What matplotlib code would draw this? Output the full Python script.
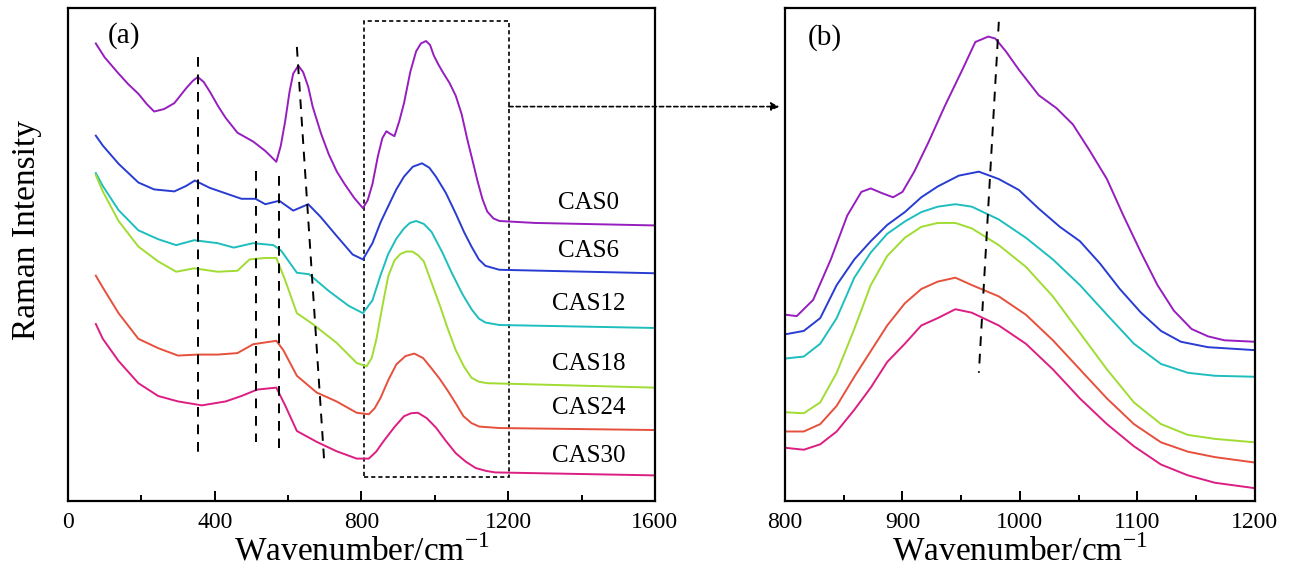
import matplotlib.pyplot as plt
from matplotlib.patches import Rectangle, ConnectionPatch
from matplotlib.ticker import MultipleLocator

plt.rcParams['font.family'] = ['Liberation Serif', 'DejaVu Serif']

names = ["CAS0", "CAS6", "CAS12", "CAS18", "CAS24", "CAS30"]
colors = ["#961EBE", "#283CD2", "#1EBEBE", "#A0DC32", "#E6503C", "#DC1E82"]

# panel (a): full spectra, wavenumber / offset intensity (a.u.)
wn_cas0 = [76, 100, 138, 165, 192, 215, 235, 262, 290, 322, 340, 354, 370, 387, 410, 430, 462, 505,
           538, 568, 580, 592, 604, 614, 628, 641, 655, 667, 690, 711, 733, 754, 780, 804, 817, 830,
           845, 857, 868, 878, 890, 903, 916, 933, 949, 962, 976, 987, 997, 1010, 1024, 1040, 1057,
           1073, 1089, 1103, 1116, 1130, 1143, 1160, 1176, 1273, 1597]
int_cas0 = [0.928, 0.900, 0.867, 0.845, 0.826, 0.805, 0.790, 0.795, 0.807, 0.837, 0.852, 0.860,
            0.850, 0.830, 0.800, 0.777, 0.747, 0.729, 0.710, 0.688, 0.720, 0.770, 0.830, 0.867,
            0.883, 0.870, 0.840, 0.800, 0.745, 0.703, 0.668, 0.643, 0.615, 0.594, 0.610, 0.643,
            0.700, 0.736, 0.750, 0.745, 0.740, 0.770, 0.807, 0.870, 0.912, 0.928, 0.933, 0.925,
            0.904, 0.885, 0.867, 0.848, 0.822, 0.785, 0.732, 0.690, 0.650, 0.612, 0.587, 0.573,
            0.568, 0.564, 0.559]

wn_cas6 = [76, 95, 138, 192, 235, 290, 322, 346, 387, 430, 473, 511, 538, 576, 614, 655, 689, 732,
           776, 804, 830, 852, 873, 895, 916, 940, 965, 985, 1003, 1030, 1057, 1080, 1100, 1120,
           1138, 1176, 1597]
int_cas6 = [0.741, 0.721, 0.684, 0.646, 0.632, 0.628, 0.639, 0.650, 0.635, 0.624, 0.613, 0.613,
            0.602, 0.609, 0.589, 0.602, 0.576, 0.538, 0.500, 0.490, 0.523, 0.565, 0.598, 0.632,
            0.658, 0.678, 0.685, 0.676, 0.658, 0.625, 0.583, 0.545, 0.516, 0.490, 0.477, 0.469,
            0.462]

wn_cas12 = [76, 95, 138, 192, 246, 295, 344, 408, 452, 505, 560, 581, 624, 657, 711, 765, 804, 830,
            852, 873, 895, 916, 932, 949, 970, 991, 1020, 1046, 1075, 1100, 1120, 1138, 1176, 1597]
int_cas12 = [0.665, 0.639, 0.590, 0.549, 0.531, 0.519, 0.529, 0.523, 0.514, 0.523, 0.519, 0.508,
             0.463, 0.460, 0.426, 0.396, 0.381, 0.407, 0.458, 0.501, 0.532, 0.553, 0.564, 0.568,
             0.562, 0.546, 0.505, 0.463, 0.420, 0.389, 0.370, 0.362, 0.357, 0.351]

wn_cas18 = [76, 95, 138, 192, 246, 295, 344, 408, 462, 495, 538, 568, 592, 624, 667, 732, 787, 814,
            828, 841, 857, 873, 890, 906, 922, 939, 955, 970, 990, 1014, 1035, 1057, 1080, 1100,
            1120, 1143, 1597]
int_cas18 = [0.661, 0.628, 0.568, 0.516, 0.486, 0.465, 0.472, 0.465, 0.467, 0.490, 0.493, 0.493,
             0.448, 0.381, 0.359, 0.321, 0.280, 0.273, 0.290, 0.329, 0.395, 0.456, 0.488, 0.501,
             0.506, 0.506, 0.498, 0.486, 0.445, 0.396, 0.350, 0.306, 0.272, 0.250, 0.242, 0.239,
             0.230]

wn_cas24 = [76, 95, 138, 192, 246, 300, 354, 408, 462, 505, 568, 587, 624, 678, 732, 787, 820, 836,
            852, 873, 895, 920, 944, 968, 991, 1013, 1035, 1057, 1078, 1100, 1121, 1176, 1597]
int_cas24 = [0.457, 0.433, 0.381, 0.329, 0.310, 0.295, 0.297, 0.297, 0.300, 0.318, 0.325, 0.306,
             0.254, 0.220, 0.202, 0.179, 0.176, 0.188, 0.209, 0.245, 0.277, 0.294, 0.299, 0.290,
             0.269, 0.248, 0.224, 0.198, 0.172, 0.158, 0.151, 0.148, 0.144]

wn_cas30 = [76, 95, 138, 192, 246, 300, 365, 430, 473, 516, 568, 592, 624, 678, 732, 787, 820, 840,
            862, 890, 916, 935, 954, 978, 1003, 1030, 1057, 1084, 1111, 1140, 1165, 1597]
int_cas30 = [0.359, 0.329, 0.284, 0.239, 0.213, 0.202, 0.194, 0.202, 0.213, 0.226, 0.230, 0.194,
             0.142, 0.120, 0.101, 0.086, 0.086, 0.100, 0.123, 0.150, 0.172, 0.178, 0.179, 0.168,
             0.149, 0.122, 0.097, 0.080, 0.067, 0.061, 0.058, 0.052]

# panel (b): 800-1200 cm-1 region, re-offset
wn_b0 = [800, 810, 824, 839, 853, 865, 873, 882, 892, 900, 910, 922, 936, 951, 962, 973, 979, 988,
         999, 1016, 1031, 1045, 1059, 1074, 1088, 1103, 1117, 1131, 1146, 1160, 1174, 1200]
int_b0 = [0.378, 0.375, 0.408, 0.490, 0.579, 0.627, 0.634, 0.625, 0.616, 0.627, 0.668, 0.727,
          0.801, 0.875, 0.931, 0.942, 0.938, 0.912, 0.875, 0.823, 0.797, 0.764, 0.712, 0.653,
          0.579, 0.504, 0.438, 0.386, 0.349, 0.334, 0.326, 0.323]

wn_b6 = [800, 816, 830, 844, 859, 873, 887, 902, 916, 930, 948, 965, 982, 999, 1016, 1034, 1051,
         1068, 1085, 1103, 1120, 1137, 1160, 1200]
int_b6 = [0.338, 0.345, 0.371, 0.438, 0.490, 0.527, 0.560, 0.586, 0.616, 0.638, 0.660, 0.668,
          0.653, 0.631, 0.593, 0.556, 0.527, 0.482, 0.430, 0.382, 0.345, 0.323, 0.312, 0.306]

wn_b = [800, 816, 830, 844, 859, 873, 887, 902, 916, 930, 945, 959, 982, 1005, 1028, 1051, 1074,
        1097, 1120, 1143, 1166, 1200]
int_b12 = [0.289, 0.293, 0.319, 0.371, 0.453, 0.504, 0.542, 0.567, 0.586, 0.597, 0.602, 0.597,
           0.571, 0.534, 0.490, 0.438, 0.378, 0.319, 0.278, 0.260, 0.254, 0.252]
int_b18 = [0.180, 0.178, 0.200, 0.260, 0.349, 0.438, 0.497, 0.534, 0.556, 0.564, 0.564, 0.553,
           0.519, 0.475, 0.415, 0.341, 0.267, 0.200, 0.156, 0.134, 0.126, 0.119]
int_b24 = [0.141, 0.141, 0.156, 0.193, 0.252, 0.304, 0.356, 0.401, 0.430, 0.445, 0.453, 0.438,
           0.415, 0.378, 0.326, 0.267, 0.208, 0.156, 0.119, 0.100, 0.089, 0.078]
int_b30 = [0.108, 0.104, 0.115, 0.141, 0.185, 0.230, 0.282, 0.319, 0.356, 0.371, 0.389, 0.382,
           0.356, 0.319, 0.267, 0.208, 0.156, 0.111, 0.074, 0.052, 0.037, 0.026]

label_y = [0.605, 0.508, 0.400, 0.278, 0.188, 0.091]

# guide lines (x0, y0, x1, y1)
guides_a = [(354, 0.900, 354, 0.097), (513, 0.669, 513, 0.120),
            (574, 0.659, 574, 0.108), (624, 0.921, 698, 0.086)]
guide_b = (982, 0.972, 965, 0.260)

fig = plt.figure(figsize=(12.99, 5.79), dpi=100)
ax1 = fig.add_axes([0.0523, 0.1347, 0.4519, 0.8515])
ax2 = fig.add_axes([0.6043, 0.1347, 0.3618, 0.8515])

series_a = [(wn_cas0, int_cas0), (wn_cas6, int_cas6), (wn_cas12, int_cas12),
            (wn_cas18, int_cas18), (wn_cas24, int_cas24), (wn_cas30, int_cas30)]
for (x, y), c, n, ly in zip(series_a, colors, names, label_y):
    ax1.plot(x, y, color=c, lw=1.4)
    ax1.text(1420, ly, n, ha='center', va='center', fontsize=18)

series_b = [(wn_b0, int_b0), (wn_b6, int_b6), (wn_b, int_b12),
            (wn_b, int_b18), (wn_b, int_b24), (wn_b, int_b30)]
for (x, y), c in zip(series_b, colors):
    ax2.plot(x, y, color=c, lw=1.4)

for x0, y0, x1, y1 in guides_a:
    ax1.plot([x0, x1], [y0, y1], color='black', lw=1.4, ls=(0, (5, 4)))
ax2.plot(guide_b[::2], guide_b[1::2], color='black', lw=1.4, ls=(0, (5, 4)))

ax1.add_patch(Rectangle((808, 0.049), 394, 0.924, fill=False, ec='black', lw=1.2,
                        ls=(0, (2.5, 1.8))))
arrow = ConnectionPatch(xyA=(1202, 0.80), coordsA=ax1.transData,
                        xyB=(-0.012, 0.80), coordsB=ax2.transAxes,
                        arrowstyle='-|>', ls=(0, (2.5, 1.8)), lw=1.2, color='black',
                        mutation_scale=12)
fig.add_artist(arrow)

ax1.text(0.068, 0.945, "(a)", transform=ax1.transAxes, fontsize=21, va='center')
ax2.text(0.049, 0.94, "(b)", transform=ax2.transAxes, fontsize=21, va='center')

ax1.set_xlim(0, 1600)
ax1.xaxis.set_major_locator(MultipleLocator(400))
ax1.xaxis.set_minor_locator(MultipleLocator(200))
ax2.set_xlim(800, 1200)
ax2.xaxis.set_major_locator(MultipleLocator(100))
ax2.xaxis.set_minor_locator(MultipleLocator(50))

for ax in (ax1, ax2):
    ax.set_ylim(0, 1)
    ax.set_yticks([])
    for sp in ax.spines.values():
        sp.set_linewidth(1.6)
    ax.tick_params(axis='x', which='major', direction='in', length=7, width=1.4,
                   labelsize=17, pad=8)
    ax.tick_params(axis='x', which='minor', direction='in', length=4, width=1.4)
    ax.set_xlabel("Wavenumber/cm$^{\\mathregular{-1}}$", fontsize=24, labelpad=1)

ax1.set_ylabel("Raman Intensity", fontsize=24)
ax1.yaxis.set_label_coords(-0.045, 0.55)

fig.savefig("out.png", dpi=100)
